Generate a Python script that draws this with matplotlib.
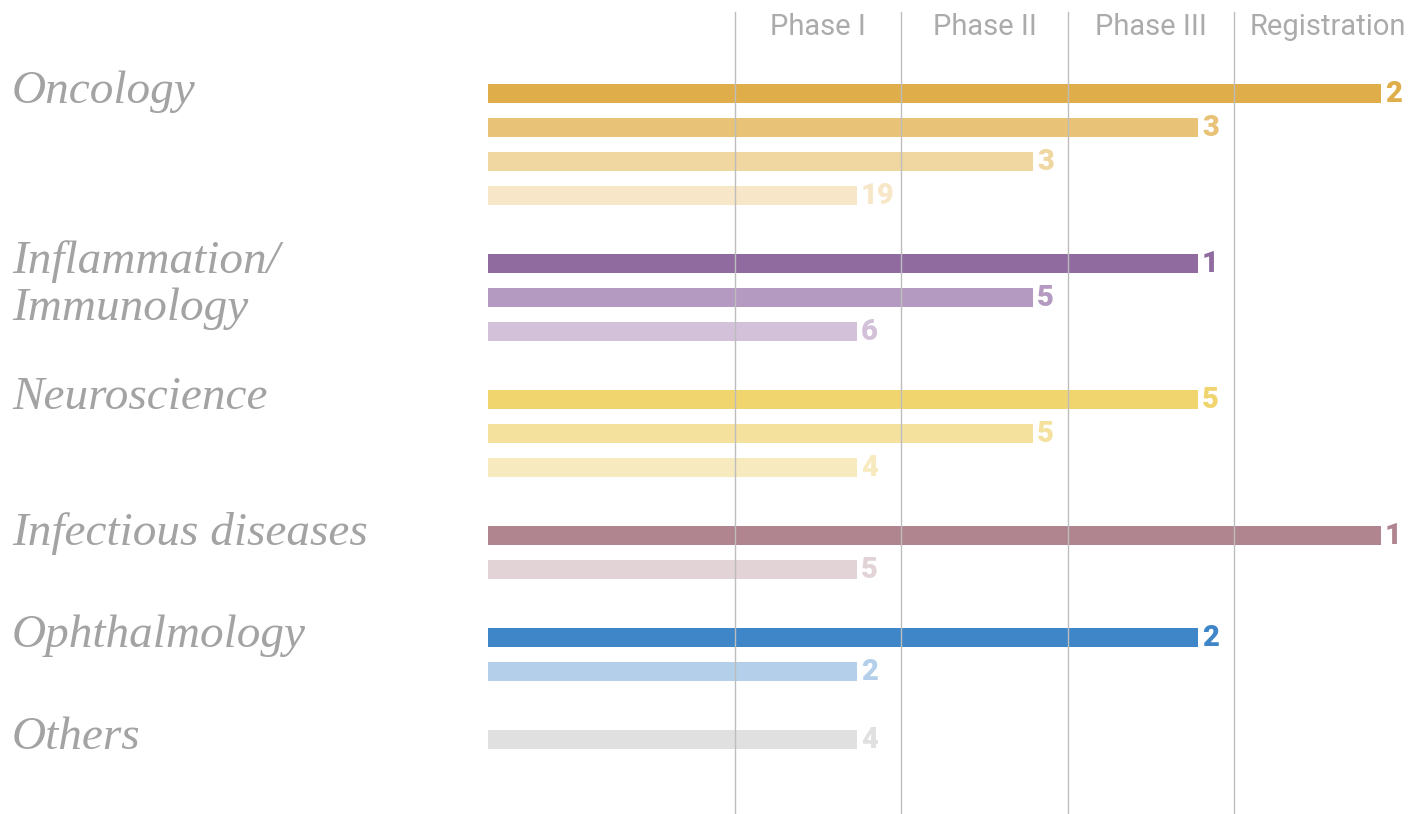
import matplotlib
matplotlib.use("Agg")
import matplotlib.pyplot as plt

# ---- data ----
areas = ["Oncology", "Inflammation/\nImmunology", "Neuroscience",
         "Infectious diseases", "Ophthalmology", "Others"]
# stage reached per bar: 1=Phase I, 2=Phase II, 3=Phase III, 4=Registration
area_stages = [[4, 3, 2, 1], [3, 2, 1], [3, 2, 1], [4, 1], [3, 1], [1]]
area_counts = [[2, 3, 3, 19], [1, 5, 6], [5, 5, 4], [1, 5], [2, 2], [4]]
area_colors = [
    ["#DFAE4A", "#E8C276", "#F0D6A0", "#F7E7C8"],
    ["#8F6BA0", "#B49AC0", "#D3C1DA"],
    ["#F0D46E", "#F4E19E", "#F8EABF"],
    ["#B08590", "#E2D3D6"],
    ["#3F86C8", "#B3CFE9"],
    ["#E0E0E0"],
]
phase_labels = ["Phase I", "Phase II", "Phase III", "Registration"]
stage_lengths = [369, 545, 710, 893]        # bar length reached by each stage
phase_lines = [247, 413, 580, 746]          # stage boundaries
phase_label_x = [330, 496.5, 663, 840]

# ---- figure ----
W, H = 1421, 814
fig = plt.figure(figsize=(W / 100, H / 100), dpi=100)
ax = fig.add_axes([0, 0, 1, 1])
ax.set_xlim(-488, W - 488)
row_px = 34
ax.set_ylim((H - 93) / row_px, -93 / row_px)
ax.axis("off")

row = 0
for name, stages, counts, colors in zip(areas, area_stages, area_counts, area_colors):
    first = row
    for st, cnt, col in zip(stages, counts, colors):
        length = stage_lengths[st - 1]
        ax.barh(row, length, left=0, height=19 / row_px, color=col, zorder=2)
        ax.text(length + 4, row + 1 / row_px, str(cnt), color=col, fontsize=21,
                fontweight="heavy", family=["Roboto", "DejaVu Sans"],
                ha="left", va="center", zorder=4)
        row += 1
    for i, line in enumerate(name.split("\n")):
        ax.text(-476, first + (10 + 47 * i) / row_px, line,
                family=["Liberation Serif"], style="italic", fontsize=34,
                color="#A3A3A3", ha="left", va="baseline")
    row += 1

for x in phase_lines:
    ax.plot([x, x], [(12 - 93) / row_px, (H - 93) / row_px + 1],
            color="#BDBDBD", lw=1, zorder=3)

for x, lab in zip(phase_label_x, phase_labels):
    ax.text(x, (35 - 93) / row_px, lab, family=["Roboto", "DejaVu Sans"],
            fontweight="normal", fontsize=21, color="#ABABAB",
            ha="center", va="baseline")

fig.savefig("out.png", dpi=100)
